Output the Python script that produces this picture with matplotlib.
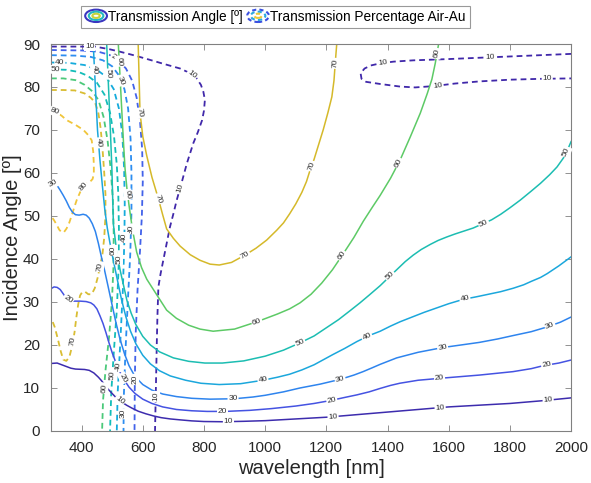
import numpy as np
import matplotlib
matplotlib.use("Agg")
import matplotlib.pyplot as plt
from matplotlib.patches import Ellipse
from matplotlib.legend_handler import HandlerBase

plt.rcParams['font.family'] = ['Liberation Sans', 'DejaVu Sans']

# ---- Transmission angle contours (solid): (wavelength nm, incidence deg)
ang10 = [(300, 15.7), (320, 15.8), (335, 15.4), (350, 15.0), (365, 14.6), (380, 14.4), (410, 14.3),
         (425, 14.1), (440, 13.5), (455, 12.5), (465, 11.7), (475, 10.8), (487, 9.7), (500, 8.7),
         (515, 7.6), (530, 6.8), (547, 6.0), (565, 5.3), (585, 4.6), (610, 4.0), (635, 3.5),
         (660, 3.1), (690, 2.8), (720, 2.6), (760, 2.35), (800, 2.2), (860, 2.15), (930, 2.25),
         (1000, 2.4), (1100, 2.8), (1200, 3.2), (1300, 3.8), (1400, 4.4), (1500, 5.0), (1600, 5.6),
         (1700, 6.0), (1800, 6.4), (1900, 7.0), (2000, 7.7)]
ang20 = [(300, 33.1), (310, 33.5), (320, 33.4), (330, 32.9), (340, 31.9), (350, 30.9), (360, 30.4),
         (375, 30.2), (395, 30.2), (415, 30.1), (430, 29.8), (440, 29.3), (450, 28.4), (460, 26.8),
         (470, 25.0), (480, 22.8), (490, 20.4), (500, 18.2), (512, 15.9), (525, 13.8), (540, 11.8),
         (555, 10.2), (575, 8.7), (600, 7.4), (630, 6.4), (665, 5.6), (710, 5.0), (760, 4.7),
         (810, 4.55), (870, 4.55), (950, 4.8), (1020, 5.2), (1100, 5.8), (1160, 6.4), (1215, 7.1),
         (1260, 7.8), (1300, 8.4), (1340, 9.1), (1376, 9.9), (1410, 10.6), (1440, 11.1),
         (1500, 11.8), (1580, 12.3), (1700, 13.0), (1810, 13.8), (1870, 14.5), (1910, 15.2),
         (1960, 15.8), (2000, 16.5)]
ang30 = [(300, 57.2), (310, 57.6), (320, 57.1), (330, 56.0), (340, 54.8), (350, 53.5), (360, 52.0),
         (370, 50.9), (380, 50.3), (392, 50.2), (405, 50.4), (415, 50.2), (425, 49.5), (435, 48.2),
         (445, 46.4), (455, 43.6), (465, 40.4), (475, 37.4), (487, 33.5), (500, 29.2), (512, 25.3),
         (525, 21.5), (540, 18.0), (555, 15.2), (575, 12.6), (600, 10.8), (630, 9.5), (665, 8.6),
         (710, 8.0), (760, 7.6), (820, 7.4), (900, 7.5), (960, 7.9), (1000, 8.3), (1060, 9.1),
         (1114, 10.0), (1180, 10.9), (1245, 12.0), (1290, 13.0), (1320, 13.8), (1350, 14.7),
         (1376, 15.5), (1430, 17.0), (1500, 18.3), (1580, 19.4), (1640, 20.0), (1700, 20.6),
         (1760, 21.4), (1811, 22.2), (1870, 23.1), (1922, 24.2), (1965, 25.3), (2000, 26.5)]
ang40 = [(438, 90), (445, 80), (452, 70), (460, 63), (468, 57), (476, 51.4), (484, 47.2), (493, 43.6),
         (504, 39.6), (515, 35.8), (531, 30.4), (545, 26.5), (560, 23.2), (578, 20.2), (600, 17.6),
         (625, 15.6), (655, 14.0), (690, 12.8), (740, 11.8), (790, 11.1), (850, 10.8), (920, 11.0),
         (993, 11.8), (1040, 12.5), (1080, 13.2), (1120, 14.2), (1160, 15.4), (1222, 17.8),
         (1260, 19.2), (1300, 20.8), (1340, 22.2), (1376, 23.2), (1410, 24.4), (1441, 25.4),
         (1484, 26.6), (1520, 27.6), (1560, 28.6), (1600, 29.6), (1647, 30.6), (1690, 31.2),
         (1730, 31.8), (1770, 32.4), (1811, 33.2), (1845, 34.0), (1870, 34.8), (1900, 35.7),
         (1922, 36.6), (1960, 38.4), (2000, 40.5)]
ang50 = [(482, 90), (488, 80), (494, 70), (499, 61), (504, 48), (515, 41.5), (526, 37.4), (548, 30.4),
         (562, 27.4), (577, 24.8), (600, 22.0), (625, 20.0), (655, 18.4), (700, 17.0), (750, 16.2),
         (803, 15.8), (860, 15.8), (930, 16.3), (1000, 17.4), (1060, 18.8), (1114, 20.5),
         (1160, 22.1), (1200, 24.0), (1240, 25.9), (1278, 28.0), (1310, 29.8), (1340, 31.6),
         (1376, 33.8), (1405, 35.8), (1430, 37.5), (1458, 39.4), (1484, 40.9), (1510, 42.2),
         (1540, 43.4), (1565, 44.3), (1593, 45.1), (1620, 45.8), (1650, 46.5), (1680, 47.2),
         (1702, 47.9), (1740, 49.1), (1770, 50.4), (1800, 51.9), (1834, 53.7), (1870, 55.8),
         (1900, 57.6), (1930, 59.6), (1954, 61.4), (1980, 64.0), (2000, 67.3)]
ang60 = [(520, 90), (526, 82), (531, 75), (537, 67), (542, 61), (548, 56.5), (555, 52.5), (566, 47),
         (580, 41.6), (596, 38), (613, 35.3), (640, 32.3), (678, 28.1), (710, 26.2), (750, 24.6),
         (787, 23.7), (830, 23.2), (900, 23.7), (973, 25.4), (1040, 27.2), (1080, 28.4),
         (1114, 29.8), (1150, 31.8), (1185, 34.4), (1220, 37.5), (1256, 41.3), (1290, 45.0),
         (1321, 48.8), (1350, 52), (1376, 54.8), (1410, 58.8), (1441, 63), (1475, 68.5),
         (1507, 73.9), (1530, 78.5), (1545, 81.8), (1556, 85.5), (1567, 90)]
ang70 = [(585, 90), (588, 82), (591, 74), (600, 68.5), (613, 64), (630, 59), (651, 54), (665, 50.3),
         (678, 47), (700, 44.8), (722, 43), (755, 41), (787, 39.7), (820, 38.8), (850, 38.6),
         (890, 39.2), (934, 40.9), (970, 42.5), (1005, 44.4), (1038, 46.7), (1060, 48.4),
         (1080, 50.5), (1100, 52.8), (1120, 55.5), (1135, 58.0), (1147, 60.7), (1160, 63.2),
         (1170, 65.5), (1180, 67.8), (1190, 70.1), (1205, 74), (1218, 77.7), (1225, 81.5),
         (1229, 85.5), (1234, 90)]

# ---- Transmission percentage Air-Au contours (dashed)
pct10a = [(300, 89.4), (350, 89.4), (400, 89.4), (444, 89.4), (490, 88.8), (526, 88.2), (575, 87.3),
          (624, 86.3), (672, 85.3), (722, 84.3), (752, 83.3), (776, 82), (790, 80.5), (798, 78.9),
          (803, 77), (800, 74.5), (794, 72.3), (780, 69.5), (765, 66.9), (744, 62.2), (728, 58),
          (711, 53.7), (700, 50.5), (689, 47.5), (678, 43.6), (667, 39.7), (658, 36.5), (651, 33.5),
          (648, 27), (646, 21.1), (644, 14), (642, 7), (640, 0)]
pct10b = [(2000, 87.7), (1900, 87.4), (1800, 87.1), (1700, 86.8), (1600, 86.5), (1484, 86.2),
          (1420, 85.9), (1376, 85.5), (1345, 85.0), (1325, 84.3), (1312, 83.2), (1315, 81.9),
          (1330, 81.2), (1376, 80.7), (1441, 80.1), (1490, 79.9), (1550, 80.2), (1620, 80.8),
          (1700, 81.3), (1800, 81.7), (1900, 81.9), (2000, 82.0)]
pct20 = [(300, 88.6), (400, 88.5), (455, 88.2), (490, 87.5), (520, 86.2), (545, 84.3), (565, 81.5),
         (580, 77.5), (591, 72), (598, 65.5), (600, 58), (597, 50), (591, 42), (583, 33), (577, 23),
         (574, 12), (573, 0)]
pct30 = [(300, 87.4), (380, 87.3), (430, 87), (470, 86.2), (500, 84.8), (522, 82.7), (540, 79.5),
         (552, 75), (560, 68), (563, 60), (563, 51), (559, 41), (551, 30), (543, 18), (538, 8), (537, 0)]
pct40 = [(300, 85.7), (360, 85.6), (410, 85.1), (450, 84), (480, 82.4), (505, 79.5), (522, 75),
         (533, 69), (539, 61), (541, 53), (540, 45), (535, 33), (526, 20), (518, 9), (515, 0)]
pct50 = [(300, 84.1), (350, 84), (390, 83.5), (420, 82.6), (450, 81), (475, 78.2), (493, 74),
         (506, 68.5), (515, 62), (520, 55), (522, 47), (521, 38), (515, 28), (505, 18), (497, 9), (493, 0)]
pct60 = [(300, 82), (340, 82), (380, 81.6), (410, 80.5), (435, 79), (455, 77), (472, 73),
         (485, 67.5), (495, 61), (502, 54), (505, 46), (504, 38), (499, 30), (490, 22), (478, 14),
         (470, 7), (467, 0)]
pct70 = [(300, 79.3), (340, 79.3), (378, 79.2), (410, 78.5), (430, 77.5), (444, 76.4), (455, 73.9),
         (462, 70.5), (468, 66), (474, 60), (478, 55), (478, 50), (474, 45), (468, 41), (460, 38.2),
         (452, 35.5), (443, 33.2), (433, 31.8), (422, 31.8), (411, 32.4), (402, 32.3), (395, 31.5),
         (389, 29.5), (383, 26.5), (377, 23), (370, 20), (360, 17.2), (350, 16.3), (340, 16.6),
         (332, 18.5), (322, 21.5), (312, 24.2), (302, 26)]
pct80 = [(300, 74.6), (318, 74.1), (335, 73.3), (351, 72.3), (380, 71.2), (406, 70), (422, 68.8),
         (433, 67.6), (438, 65), (440, 62), (440, 59.8), (436, 58.6), (427, 57.9), (416, 57.6),
         (406, 56.8), (395, 55.5), (384, 53.7), (376, 52), (368, 50.2), (360, 48.5), (351, 47.1),
         (343, 46.3), (335, 46.2), (327, 46.8), (319, 47.9), (310, 49), (300, 50)]

# label positions along each line
ang_labels = {10: [(526, 7.2), (880, 2.15), (1222, 3.3), (1572, 5.4), (1925, 7.2)],
              20: [(356, 30.6), (536, 12.3), (860, 4.55), (1218, 7.1), (1570, 12.3), (1920, 15.3)],
              30: [(307, 57.5), (895, 7.5), (1245, 12.0), (1580, 19.4), (1931, 24.5)],
              40: [(442, 84), (455, 67), (993, 11.8), (1332, 22.0), (1653, 30.7)],
              50: [(486, 83), (1114, 20.5), (1409, 36.0), (1714, 48.3), (1980, 65)],
              60: [(522, 86), (551, 55), (973, 25.4), (1250, 40.8), (1436, 62.3), (1561, 87.8)],
              70: [(596, 74), (651, 54), (934, 40.9), (1152, 61.6), (1229, 85.5)]}
pct_labels = {'10a': [(427, 89.4), (760, 82.8), (722, 56.5), (643, 8)],
              '10b': [(1386, 85.6), (1736, 86.9), (1565, 80.5), (1922, 81.9)],
              20: [(509, 86.5), (573, 12)],
              30: [(531, 81.6), (559, 47), (537, 4)],
              40: [(329, 85.65), (540, 45), (520, 15)],
              50: [(313, 84.1), (521, 40), (500, 13)],
              60: [(504, 42), (474, 10)],
              70: [(460, 38.2), (372, 21)],
              80: [(313, 74.2), (406, 56.8)]}

ang_colors = {10: '#3D2CAE', 20: '#4553E2', 30: '#2E84EE', 40: '#1BA7DC', 50: '#1CBDB2',
              60: '#5DCA66', 70: '#D5B92A'}
pct_colors = {10: '#4028AA', 20: '#4262EA', 30: '#2C8DF0', 40: '#15ABDC', 50: '#13BDB8',
              60: '#4BC97A', 70: '#D9BD33', 80: '#F0C53A'}

fig = plt.figure(figsize=(5.91, 4.83), dpi=100)
ax = fig.add_axes([0.0863, 0.1077, 0.88, 0.8012])
ax.set_xlim(300, 2000)
ax.set_ylim(0, 90)


def draw_line(pts, color, ls, lw, text, label_at):
    xs = np.array([p[0] for p in pts], float)
    ys = np.array([p[1] for p in pts], float)
    ax.plot(xs, ys, color=color, ls=ls, lw=lw, zorder=2, solid_joinstyle='round')
    disp = ax.transData.transform(np.column_stack([xs, ys]))
    for lx, ly in label_at:
        q = ax.transData.transform((lx, ly))
        best = None
        for k in range(len(xs) - 1):
            a, b = disp[k], disp[k + 1]
            d = b - a
            t = np.clip(np.dot(q - a, d) / max(np.dot(d, d), 1e-9), 0, 1)
            p = a + t * d
            dist = np.hypot(*(q - p))
            if best is None or dist < best[0]:
                best = (dist, p, d)
        _, p, d = best
        ang = np.degrees(np.arctan2(d[1], d[0]))
        if ang > 90:
            ang -= 180
        elif ang < -90:
            ang += 180
        px, py = ax.transData.inverted().transform(p)
        ax.text(px, py, str(text), rotation=ang, rotation_mode='anchor', ha='center', va='center',
                fontsize=6, color='#333333', zorder=4,
                bbox=dict(boxstyle='square,pad=0.1', fc='white', ec='none'))


dash = (0, (3.2, 2.2))
for lev, pts in [(10, pct10a), (20, pct20), (30, pct30), (40, pct40), (50, pct50),
                 (60, pct60), (70, pct70), (80, pct80)]:
    key = '10a' if lev == 10 else lev
    draw_line(pts, pct_colors[lev], dash, 1.3, lev, pct_labels[key])
draw_line(pct10b, pct_colors[10], dash, 1.3, 10, pct_labels['10b'])

for lev, pts in [(10, ang10), (20, ang20), (30, ang30), (40, ang40), (50, ang50),
                 (60, ang60), (70, ang70)]:
    draw_line(pts, ang_colors[lev], '-', 1.1, lev, ang_labels[lev])

ax.set_xticks(np.arange(400, 2001, 200))
ax.set_yticks(np.arange(0, 91, 10))
ax.tick_params(direction='in', length=4, width=0.6, top=True, right=True,
               labelsize=11, colors='#808080', labelcolor='#262626')
ax.tick_params(axis='x', pad=7)
ax.tick_params(axis='y', pad=8)
for s in ax.spines.values():
    s.set_color('#808080')
    s.set_linewidth(0.8)
ax.set_xlabel('wavelength [nm]', fontsize=14.5, color='#262626', labelpad=3)
ax.set_ylabel('Incidence Angle [º]', fontsize=14.5, color='#262626', labelpad=1)


class RingHandler(HandlerBase):
    def __init__(self, colors, ls):
        super().__init__()
        self.colors = colors
        self.ls = ls

    def create_artists(self, legend, orig_handle, xdescent, ydescent, width, height, fontsize, trans):
        cx = width / 2 - xdescent
        cy = height / 2 - ydescent
        arts = []
        for i, c in enumerate(self.colors):
            f = 1 - i * 0.33
            arts.append(Ellipse((cx, cy), width * f, height * 1.3 * f, fill=False, edgecolor=c,
                                lw=1.5, ls=self.ls, transform=trans))
        return arts


h1 = plt.Line2D([], [])
h2 = plt.Line2D([], [])
leg = fig.legend([h1, h2], ['Transmission Angle [º]', 'Transmission Percentage Air-Au'],
                 handler_map={h1: RingHandler(['#3A36C0', '#25B8C0', '#C8D23A'], '-'),
                              h2: RingHandler(['#3A50E0', '#2CA8E0', '#E8C83A'], (0, (2, 1.5)))},
                 loc='upper center', bbox_to_anchor=(275.5 / 591, 1 - 5.5 / 483), ncol=2,
                 fontsize=9.8, frameon=True, fancybox=False, borderaxespad=0, borderpad=0.3,
                 handlelength=1.6, handletextpad=0.1, columnspacing=0.3, edgecolor='#808080')
leg.get_frame().set_linewidth(0.8)

fig.savefig('out.png', dpi=100)
